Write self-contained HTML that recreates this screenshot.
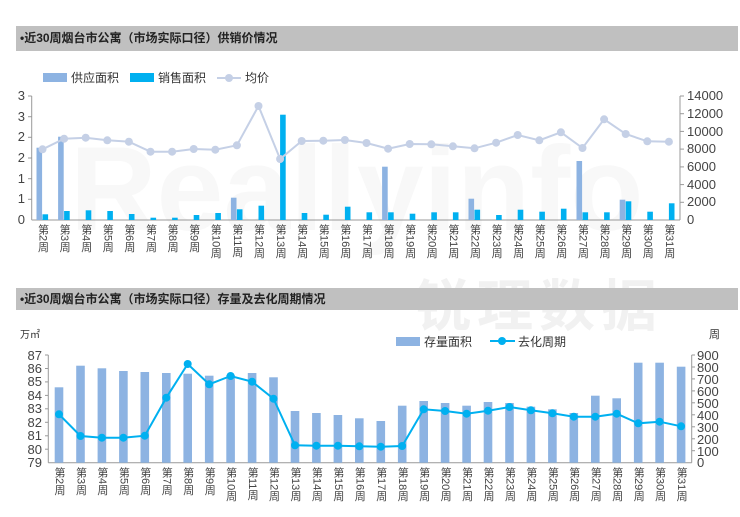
<!DOCTYPE html>
<html><head><meta charset="utf-8"><style>
body{margin:0;background:#fff;width:740px;height:517px;overflow:hidden;position:relative;font-family:"Liberation Sans","Noto Sans CJK SC",sans-serif}
.bar{position:absolute;left:16px;width:722px;background:#c0c0c0;font-size:12px;font-weight:bold;color:#222;box-sizing:border-box;padding-left:4px}
.xl{position:absolute;writing-mode:vertical-rl;font-size:11px;color:#444;line-height:12px;transform:translateX(-6px)}
svg{position:absolute;left:0;top:0}
</style></head><body>
<div style="position:absolute;left:415px;top:262px;font-size:56px;font-weight:bold;color:#f1f1f1;letter-spacing:6px;font-family:'Noto Sans CJK SC',sans-serif">锐理数据</div>
<div style="position:absolute;left:70px;top:120px;font-size:120px;font-weight:bold;color:#f8f8f8;font-family:'Liberation Sans',sans-serif">Reallyinfo</div>
<div class="bar" style="top:26px;height:25px;line-height:25px">•近30周烟台市公寓（市场实际口径）供销价情况</div>
<div class="bar" style="top:288px;height:22px;line-height:22px">•近30周烟台市公寓（市场实际口径）存量及去化周期情况</div>
<svg width="740" height="517" font-family="Liberation Sans, Noto Sans CJK SC, sans-serif">
<rect x="43" y="73" width="24" height="9" fill="#8db3e2"/><text x="71" y="82" font-size="12" fill="#333">供应面积</text>
<rect x="130" y="73" width="24" height="9" fill="#00b0f0"/><text x="158" y="82" font-size="12" fill="#333">销售面积</text>
<line x1="217" y1="78" x2="241" y2="78" stroke="#c5d0e6" stroke-width="2"/><circle cx="229" cy="78" r="4" fill="#c5d0e6"/><text x="245" y="82" font-size="12" fill="#333">均价</text>
<g stroke="#999" stroke-width="1">
<line x1="31.7" y1="96" x2="31.7" y2="220"/><line x1="680" y1="96" x2="680" y2="220"/><line x1="31.7" y1="220" x2="680" y2="220"/>
<line x1="28" y1="96" x2="31.7" y2="96"/><line x1="28" y1="116.7" x2="31.7" y2="116.7"/><line x1="28" y1="137.3" x2="31.7" y2="137.3"/><line x1="28" y1="158" x2="31.7" y2="158"/><line x1="28" y1="178.7" x2="31.7" y2="178.7"/><line x1="28" y1="199.3" x2="31.7" y2="199.3"/>
<line x1="680" y1="96" x2="684" y2="96"/><line x1="680" y1="113.7" x2="684" y2="113.7"/><line x1="680" y1="131.4" x2="684" y2="131.4"/><line x1="680" y1="149.1" x2="684" y2="149.1"/><line x1="680" y1="166.9" x2="684" y2="166.9"/><line x1="680" y1="184.6" x2="684" y2="184.6"/><line x1="680" y1="202.3" x2="684" y2="202.3"/>
</g>
<g font-size="13" fill="#444" text-anchor="end">
<text x="25" y="100">3</text><text x="25" y="121">3</text><text x="25" y="141">2</text><text x="25" y="162">2</text><text x="25" y="183">1</text><text x="25" y="203">1</text><text x="25" y="224">0</text>
</g>
<g font-size="13" fill="#444">
<text x="687" y="100">14000</text><text x="687" y="118">12000</text><text x="687" y="136">10000</text><text x="687" y="153">8000</text><text x="687" y="171">6000</text><text x="687" y="189">4000</text><text x="687" y="206">2000</text><text x="687" y="224">0</text>
</g>
<g fill="#8db3e2">
<rect x="36.5" y="147.7" width="5.6" height="72.3"/><rect x="58.1" y="136.7" width="5.6" height="83.3"/><rect x="230.9" y="197.7" width="5.6" height="22.3"/><rect x="382.1" y="166.7" width="5.6" height="53.3"/><rect x="468.5" y="198.7" width="5.6" height="21.3"/><rect x="576.5" y="161" width="5.6" height="59"/><rect x="619.7" y="199.7" width="5.6" height="20.3"/>
</g>
<g fill="#00b0f0">
<rect x="42.5" y="214.3" width="5.6" height="5.7"/><rect x="64.1" y="211" width="5.6" height="9"/><rect x="85.7" y="210.3" width="5.6" height="9.7"/><rect x="107.3" y="211" width="5.6" height="9"/><rect x="128.9" y="214" width="5.6" height="6"/><rect x="150.5" y="217.7" width="5.6" height="2.3"/><rect x="172.1" y="217.7" width="5.6" height="2.3"/><rect x="193.7" y="215" width="5.6" height="5"/><rect x="215.3" y="213" width="5.6" height="7"/><rect x="236.9" y="209.3" width="5.6" height="10.7"/><rect x="258.5" y="205.7" width="5.6" height="14.3"/><rect x="280.1" y="114.7" width="5.6" height="105.3"/><rect x="301.7" y="213" width="5.6" height="7"/><rect x="323.3" y="214.7" width="5.6" height="5.3"/><rect x="344.9" y="206.7" width="5.6" height="13.3"/><rect x="366.5" y="212.3" width="5.6" height="7.7"/><rect x="388.1" y="212.3" width="5.6" height="7.7"/><rect x="409.7" y="213.7" width="5.6" height="6.3"/><rect x="431.3" y="212.3" width="5.6" height="7.7"/><rect x="452.9" y="212.3" width="5.6" height="7.7"/><rect x="474.5" y="209.7" width="5.6" height="10.3"/><rect x="496.1" y="215" width="5.6" height="5"/><rect x="517.7" y="209.7" width="5.6" height="10.3"/><rect x="539.3" y="211.7" width="5.6" height="8.3"/><rect x="560.9" y="208.7" width="5.6" height="11.3"/><rect x="582.5" y="212.3" width="5.6" height="7.7"/><rect x="604.1" y="212.3" width="5.6" height="7.7"/><rect x="625.7" y="201.3" width="5.6" height="18.7"/><rect x="647.3" y="211.7" width="5.6" height="8.3"/><rect x="668.9" y="203.3" width="5.6" height="16.7"/>
</g>
<polyline fill="none" stroke="#c5d0e6" stroke-width="2" points="42.5,149.3 64.1,138.7 85.7,137.7 107.3,140.3 128.9,141.7 150.5,151.7 172.1,151.7 193.7,149 215.3,149.7 236.9,145.3 258.5,106 280.1,159 301.7,141 323.3,140.7 344.9,140 366.5,143 388.1,148.7 409.7,144 431.3,144.3 452.9,146.3 474.5,148.3 496.1,142.7 517.7,135 539.3,140.3 560.9,132.3 582.5,148 604.1,119.3 625.7,134 647.3,141.3 668.9,141.7"/>
<g fill="#c5d0e6">
<circle cx="42.5" cy="149.3" r="4"/><circle cx="64.1" cy="138.7" r="4"/><circle cx="85.7" cy="137.7" r="4"/><circle cx="107.3" cy="140.3" r="4"/><circle cx="128.9" cy="141.7" r="4"/><circle cx="150.5" cy="151.7" r="4"/><circle cx="172.1" cy="151.7" r="4"/><circle cx="193.7" cy="149" r="4"/><circle cx="215.3" cy="149.7" r="4"/><circle cx="236.9" cy="145.3" r="4"/><circle cx="258.5" cy="106" r="4"/><circle cx="280.1" cy="159" r="4"/><circle cx="301.7" cy="141" r="4"/><circle cx="323.3" cy="140.7" r="4"/><circle cx="344.9" cy="140" r="4"/><circle cx="366.5" cy="143" r="4"/><circle cx="388.1" cy="148.7" r="4"/><circle cx="409.7" cy="144" r="4"/><circle cx="431.3" cy="144.3" r="4"/><circle cx="452.9" cy="146.3" r="4"/><circle cx="474.5" cy="148.3" r="4"/><circle cx="496.1" cy="142.7" r="4"/><circle cx="517.7" cy="135" r="4"/><circle cx="539.3" cy="140.3" r="4"/><circle cx="560.9" cy="132.3" r="4"/><circle cx="582.5" cy="148" r="4"/><circle cx="604.1" cy="119.3" r="4"/><circle cx="625.7" cy="134" r="4"/><circle cx="647.3" cy="141.3" r="4"/><circle cx="668.9" cy="141.7" r="4"/>
</g>
<rect x="396" y="337" width="24" height="9" fill="#8db3e2"/><text x="424" y="346" font-size="12" fill="#333">存量面积</text>
<line x1="490" y1="341" x2="515" y2="341" stroke="#00b0f0" stroke-width="2"/><circle cx="502" cy="341" r="4" fill="#00b0f0"/><text x="518" y="346" font-size="12" fill="#333">去化周期</text>
<text x="20" y="338" font-size="10" fill="#333">万㎡</text><text x="709" y="338" font-size="11" fill="#333">周</text>
<g stroke="#999" stroke-width="1">
<line x1="48.3" y1="355" x2="48.3" y2="462.7"/><line x1="691.7" y1="355" x2="691.7" y2="462.7"/><line x1="48.3" y1="462.7" x2="691.7" y2="462.7"/>
<line x1="45" y1="355" x2="48.3" y2="355"/><line x1="45" y1="368.5" x2="48.3" y2="368.5"/><line x1="45" y1="381.9" x2="48.3" y2="381.9"/><line x1="45" y1="395.4" x2="48.3" y2="395.4"/><line x1="45" y1="408.8" x2="48.3" y2="408.8"/><line x1="45" y1="422.3" x2="48.3" y2="422.3"/><line x1="45" y1="435.8" x2="48.3" y2="435.8"/><line x1="45" y1="449.2" x2="48.3" y2="449.2"/>
<line x1="691.7" y1="355" x2="695" y2="355"/><line x1="691.7" y1="367" x2="695" y2="367"/><line x1="691.7" y1="378.9" x2="695" y2="378.9"/><line x1="691.7" y1="390.9" x2="695" y2="390.9"/><line x1="691.7" y1="402.8" x2="695" y2="402.8"/><line x1="691.7" y1="414.8" x2="695" y2="414.8"/><line x1="691.7" y1="426.8" x2="695" y2="426.8"/><line x1="691.7" y1="438.8" x2="695" y2="438.8"/><line x1="691.7" y1="450.7" x2="695" y2="450.7"/>
</g>
<g font-size="13" fill="#444" text-anchor="end">
<text x="42" y="360">87</text><text x="42" y="373">86</text><text x="42" y="386">85</text><text x="42" y="400">84</text><text x="42" y="413">83</text><text x="42" y="427">82</text><text x="42" y="440">81</text><text x="42" y="454">80</text><text x="42" y="467">79</text>
</g>
<g font-size="13" fill="#444">
<text x="697" y="360">900</text><text x="697" y="372">800</text><text x="697" y="384">700</text><text x="697" y="396">600</text><text x="697" y="408">500</text><text x="697" y="420">400</text><text x="697" y="432">300</text><text x="697" y="444">200</text><text x="697" y="456">100</text><text x="697" y="467">0</text>
</g>
<g fill="#8db3e2">
<rect x="54.7" y="387.3" width="8.6" height="75.4"/><rect x="76.2" y="365.7" width="8.6" height="97"/><rect x="97.6" y="368.3" width="8.6" height="94.4"/><rect x="119.1" y="371" width="8.6" height="91.7"/><rect x="140.5" y="372" width="8.6" height="90.7"/><rect x="162" y="373" width="8.6" height="89.7"/><rect x="183.4" y="373.7" width="8.6" height="89"/><rect x="204.9" y="375.7" width="8.6" height="87"/><rect x="226.3" y="375" width="8.6" height="87.7"/><rect x="247.8" y="373" width="8.6" height="89.7"/><rect x="269.2" y="377.3" width="8.6" height="85.4"/><rect x="290.7" y="411" width="8.6" height="51.7"/><rect x="312.1" y="413" width="8.6" height="49.7"/><rect x="333.6" y="415" width="8.6" height="47.7"/><rect x="355" y="418.3" width="8.6" height="44.4"/><rect x="376.5" y="421" width="8.6" height="41.7"/><rect x="397.9" y="405.7" width="8.6" height="57"/><rect x="419.4" y="401" width="8.6" height="61.7"/><rect x="440.8" y="403" width="8.6" height="59.7"/><rect x="462.3" y="405.7" width="8.6" height="57"/><rect x="483.7" y="402" width="8.6" height="60.7"/><rect x="505.2" y="403" width="8.6" height="59.7"/><rect x="526.6" y="406.7" width="8.6" height="56"/><rect x="548.1" y="409.3" width="8.6" height="53.4"/><rect x="569.5" y="413" width="8.6" height="49.7"/><rect x="591" y="395.7" width="8.6" height="67"/><rect x="612.4" y="398.3" width="8.6" height="64.4"/><rect x="633.9" y="362.7" width="8.6" height="100"/><rect x="655.3" y="362.7" width="8.6" height="100"/><rect x="676.8" y="366.7" width="8.6" height="96"/>
</g>
<polyline fill="none" stroke="#00b0f0" stroke-width="2" points="59,414.3 80.5,436 101.9,437.7 123.4,437.7 144.8,435.7 166.3,397.7 187.7,364 209.2,384.3 230.6,376 252.1,381.7 273.5,398.7 295,445.3 316.4,445.7 337.9,445.7 359.3,446.3 380.8,446.7 402.2,446 423.7,409.3 445.1,411 466.6,413.7 488,410.7 509.5,407 530.9,410.3 552.4,413.3 573.8,416.7 595.3,416.7 616.7,413.7 638.2,423.3 659.6,421.7 681.1,426.3"/>
<g fill="#00b0f0">
<circle cx="59" cy="414.3" r="4"/><circle cx="80.5" cy="436" r="4"/><circle cx="101.9" cy="437.7" r="4"/><circle cx="123.4" cy="437.7" r="4"/><circle cx="144.8" cy="435.7" r="4"/><circle cx="166.3" cy="397.7" r="4"/><circle cx="187.7" cy="364" r="4"/><circle cx="209.2" cy="384.3" r="4"/><circle cx="230.6" cy="376" r="4"/><circle cx="252.1" cy="381.7" r="4"/><circle cx="273.5" cy="398.7" r="4"/><circle cx="295" cy="445.3" r="4"/><circle cx="316.4" cy="445.7" r="4"/><circle cx="337.9" cy="445.7" r="4"/><circle cx="359.3" cy="446.3" r="4"/><circle cx="380.8" cy="446.7" r="4"/><circle cx="402.2" cy="446" r="4"/><circle cx="423.7" cy="409.3" r="4"/><circle cx="445.1" cy="411" r="4"/><circle cx="466.6" cy="413.7" r="4"/><circle cx="488" cy="410.7" r="4"/><circle cx="509.5" cy="407" r="4"/><circle cx="530.9" cy="410.3" r="4"/><circle cx="552.4" cy="413.3" r="4"/><circle cx="573.8" cy="416.7" r="4"/><circle cx="595.3" cy="416.7" r="4"/><circle cx="616.7" cy="413.7" r="4"/><circle cx="638.2" cy="423.3" r="4"/><circle cx="659.6" cy="421.7" r="4"/><circle cx="681.1" cy="426.3" r="4"/>
</g>
</svg>
<div class="xl" style="left:42.5px;top:224px">第2周</div><div class="xl" style="left:64.1px;top:224px">第3周</div><div class="xl" style="left:85.7px;top:224px">第4周</div><div class="xl" style="left:107.3px;top:224px">第5周</div><div class="xl" style="left:128.9px;top:224px">第6周</div><div class="xl" style="left:150.5px;top:224px">第7周</div><div class="xl" style="left:172.1px;top:224px">第8周</div><div class="xl" style="left:193.7px;top:224px">第9周</div><div class="xl" style="left:215.3px;top:224px">第10周</div><div class="xl" style="left:236.9px;top:224px">第11周</div><div class="xl" style="left:258.5px;top:224px">第12周</div><div class="xl" style="left:280.1px;top:224px">第13周</div><div class="xl" style="left:301.7px;top:224px">第14周</div><div class="xl" style="left:323.3px;top:224px">第15周</div><div class="xl" style="left:344.9px;top:224px">第16周</div><div class="xl" style="left:366.5px;top:224px">第17周</div><div class="xl" style="left:388.1px;top:224px">第18周</div><div class="xl" style="left:409.7px;top:224px">第19周</div><div class="xl" style="left:431.3px;top:224px">第20周</div><div class="xl" style="left:452.9px;top:224px">第21周</div><div class="xl" style="left:474.5px;top:224px">第22周</div><div class="xl" style="left:496.1px;top:224px">第23周</div><div class="xl" style="left:517.7px;top:224px">第24周</div><div class="xl" style="left:539.3px;top:224px">第25周</div><div class="xl" style="left:560.9px;top:224px">第26周</div><div class="xl" style="left:582.5px;top:224px">第27周</div><div class="xl" style="left:604.1px;top:224px">第28周</div><div class="xl" style="left:625.7px;top:224px">第29周</div><div class="xl" style="left:647.3px;top:224px">第30周</div><div class="xl" style="left:668.9px;top:224px">第31周</div>
<div class="xl" style="left:59px;top:467px">第2周</div><div class="xl" style="left:80.5px;top:467px">第3周</div><div class="xl" style="left:101.9px;top:467px">第4周</div><div class="xl" style="left:123.4px;top:467px">第5周</div><div class="xl" style="left:144.8px;top:467px">第6周</div><div class="xl" style="left:166.3px;top:467px">第7周</div><div class="xl" style="left:187.7px;top:467px">第8周</div><div class="xl" style="left:209.2px;top:467px">第9周</div><div class="xl" style="left:230.6px;top:467px">第10周</div><div class="xl" style="left:252.1px;top:467px">第11周</div><div class="xl" style="left:273.5px;top:467px">第12周</div><div class="xl" style="left:295px;top:467px">第13周</div><div class="xl" style="left:316.4px;top:467px">第14周</div><div class="xl" style="left:337.9px;top:467px">第15周</div><div class="xl" style="left:359.3px;top:467px">第16周</div><div class="xl" style="left:380.8px;top:467px">第17周</div><div class="xl" style="left:402.2px;top:467px">第18周</div><div class="xl" style="left:423.7px;top:467px">第19周</div><div class="xl" style="left:445.1px;top:467px">第20周</div><div class="xl" style="left:466.6px;top:467px">第21周</div><div class="xl" style="left:488px;top:467px">第22周</div><div class="xl" style="left:509.5px;top:467px">第23周</div><div class="xl" style="left:530.9px;top:467px">第24周</div><div class="xl" style="left:552.4px;top:467px">第25周</div><div class="xl" style="left:573.8px;top:467px">第26周</div><div class="xl" style="left:595.3px;top:467px">第27周</div><div class="xl" style="left:616.7px;top:467px">第28周</div><div class="xl" style="left:638.2px;top:467px">第29周</div><div class="xl" style="left:659.6px;top:467px">第30周</div><div class="xl" style="left:681.1px;top:467px">第31周</div>
</body></html>
